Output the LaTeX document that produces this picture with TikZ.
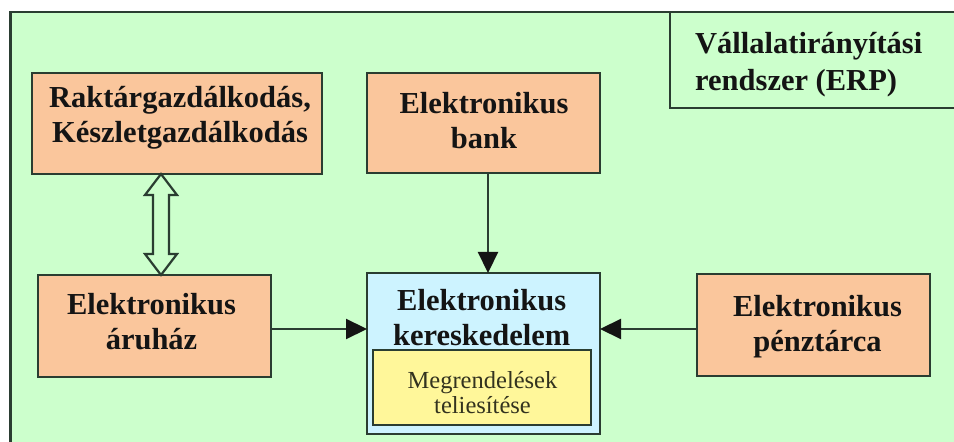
\documentclass[tikz,border=0pt]{standalone}
\usepackage{fontspec}
\setmainfont{Liberation Serif}
\usetikzlibrary{arrows.meta,calc}
\definecolor{bggreen}{HTML}{CCFFCC}
\definecolor{peach}{HTML}{FAC69C}
\definecolor{lightblue}{HTML}{CDF3FF}
\definecolor{paleyellow}{HTML}{FFF79A}
\definecolor{edge}{HTML}{2A3D31}
\definecolor{ink}{HTML}{141414}
\definecolor{softink}{HTML}{33331F}
\begin{document}
\begin{tikzpicture}[x=1bp,y=-1bp,
  box/.style={draw=edge,line width=2.4bp,inner sep=0pt,outer sep=0pt},
  orangebox/.style={box,fill=peach},
  boldtext/.style={inner sep=0pt,anchor=north,align=center,text=ink,
    font=\fontsize{30.5bp}{35bp}\selectfont\bfseries},
  smalltext/.style={inner sep=0pt,anchor=north,align=center,text=softink,
    font=\fontsize{24.5bp}{25bp}\selectfont},
  arr/.style={draw=edge,line width=2.2bp,-{Triangle[length=21bp,width=20bp,color=ink]}},
  hollow/.style={draw=edge,line width=2.2bp,fill=bggreen,line join=miter}]
\useasboundingbox (0,0) rectangle (954,442);
\clip (0,0) rectangle (954,442);
\fill[white] (0,0) rectangle (954,442);

% outer frame and ERP label box
\node[box,fill=bggreen,minimum width=954.5bp,minimum height=440bp] (frame) at (487.75,232) {};
\node[box,fill=bggreen,minimum width=295bp,minimum height=96bp] (erp) at (817.5,60) {};
\node[inner sep=0pt,anchor=north west,align=left,text=ink,
  font=\fontsize{30.5bp}{37bp}\selectfont\bfseries] (erptext) at (695,32.3)
  {Vállalatirányítási\\rendszer (ERP)};

% boxes
\node[orangebox,minimum width=290bp,minimum height=101bp] (rak) at (177,123.5) {};
\node[boldtext] (raktext) at (180,86.3) {Raktárgazdálkodás,\\Készletgazdálkodás};

\node[orangebox,minimum width=233bp,minimum height=100bp] (bank) at (483.5,123) {};
\node[boldtext] (banktext) at (484,92.3) {Elektronikus\\bank};

\node[orangebox,minimum width=233bp,minimum height=102bp] (aruhaz) at (154.5,326) {};
\node[boldtext] (aruhaztext) at (151.5,292.7) {Elektronikus\\áruház};

\node[box,fill=lightblue,minimum width=233bp,minimum height=161bp] (keresk) at (483.5,353.5) {};
\node[boldtext] (kersktext) at (481.7,289) {Elektronikus\\kereskedelem};

\node[box,fill=paleyellow,minimum width=218bp,minimum height=75bp] (megr) at (482,387.5) {};
\node[smalltext] (megrtext) at (482.5,371.6) {Megrendelések\\teliesítése};

\node[orangebox,minimum width=233bp,minimum height=102bp] (penz) at (813.5,325) {};
\node[boldtext] (penztext) at (817.5,295) {Elektronikus\\pénztárca};

% connectors
\draw[arr] ([xshift=4.5bp]bank.south) -- ([xshift=4.5bp]bank.south |- keresk.north);
\draw[arr] ([yshift=-3bp]aruhaz.east) -- ([yshift=-3bp]aruhaz.east -| keresk.west);
\draw[arr] ([yshift=-4bp]penz.west) -- ([yshift=-4bp]penz.west -| keresk.east);

% hollow double arrow
\coordinate (dt) at ([xshift=-16bp]rak.south);
\coordinate (db) at ([xshift=6.5bp]aruhaz.north);
\draw[hollow] (dt) -- ++(-16,21) -- ++(8,0) -- ($(db)+(-8,-21)$) -- ++(-8,0)
  -- (db) -- ++(16,-21) -- ++(-8,0) -- ($(dt)+(8,21)$) -- ++(8,0) -- cycle;
\end{tikzpicture}
\end{document}
